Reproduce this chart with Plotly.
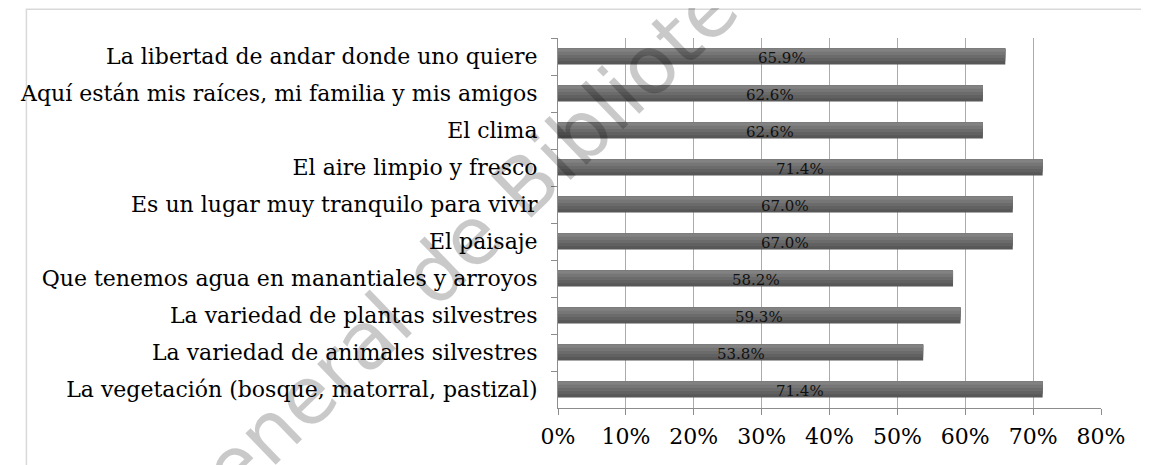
import plotly.graph_objects as go

# categories listed from top to bottom, as in the picture
categorias = [
    "La libertad de andar donde uno quiere",
    "Aquí están mis raíces, mi familia y mis amigos",
    "El clima",
    "El aire limpio y fresco",
    "Es un lugar muy tranquilo para vivir",
    "El paisaje",
    "Que tenemos agua en manantiales y arroyos",
    "La variedad de plantas silvestres",
    "La variedad de animales silvestres",
    "La vegetación (bosque, matorral, pastizal)",
]
porcentajes = [65.9, 62.6, 62.6, 71.4, 67.0, 67.0, 58.2, 59.3, 53.8, 71.4]
ticks_x = [0, 10, 20, 30, 40, 50, 60, 70, 80]
etiquetas_x = ["0%", "10%", "20%", "30%", "40%", "50%", "60%", "70%", "80%"]

serif = "DejaVu Serif"

fig = go.Figure()

# Excel gradient fill faked with nested bars: full dark bar, lighter ones laid over its top part
tonos = ["#575757", "#616161", "#6b6b6b", "#767676", "#828282"]
ancho = 0.43
for i, color in enumerate(tonos):
    w = ancho * (1 - i / len(tonos))
    fig.add_trace(go.Bar(
        x=porcentajes, y=categorias, orientation="h",
        width=w, offset=-ancho / 2,
        marker=dict(color=color, line=dict(width=0)),
        hoverinfo="skip",
    ))

# value labels centred on each bar (Excel "center" label)
for cat, val in zip(categorias, porcentajes):
    fig.add_annotation(x=val / 2, y=cat, text=f"{val:.1f}%", showarrow=False,
                       yshift=-1, font=dict(family=serif, size=15, color="#111111"))

# watermark of the scanned document
fig.add_annotation(xref="paper", yref="paper", x=-0.379, y=0.151,
                   xanchor="center", yanchor="middle",
                   text="Dirección General de Bibliotecas", showarrow=False,
                   textangle=-44, font=dict(family="DejaVu Sans", size=80,
                                            color="rgba(0,0,0,0.21)"))

# chart area border
fig.add_shape(type="rect", xref="paper", yref="paper",
              x0=-0.979, x1=1.1, y0=-0.2, y1=1.078,
              line=dict(color="#d9d9d9", width=1.5), layer="below")

# the page adds an 8 px body margin, so the figure is 8 px smaller each way
fig.update_layout(
    width=1141, height=457,
    margin=dict(l=541, r=48, t=30, b=57),
    paper_bgcolor="white", plot_bgcolor="white",
    showlegend=False, barmode="overlay",
    font=dict(family=serif, size=22, color="black"),
)
fig.update_xaxes(
    range=[0, 80], tickvals=ticks_x, ticktext=etiquetas_x,
    showgrid=True, gridcolor="#ababab", gridwidth=1,
    showline=True, linecolor="#8c8c8c", linewidth=1,
    ticks="outside", ticklen=6, tickcolor="#8c8c8c",
    tickfont=dict(family=serif, size=22, color="black"),
    ticklabelstandoff=3, zeroline=False, fixedrange=True,
)
fig.update_yaxes(
    autorange="reversed", tickson="boundaries",
    showline=True, linecolor="#8c8c8c", linewidth=1,
    ticks="outside", ticklen=6, tickcolor="#8c8c8c",
    tickfont=dict(family=serif, size=22, color="black"),
    ticklabelstandoff=15, showgrid=False, fixedrange=True,
)

fig.write_html("out.html")
